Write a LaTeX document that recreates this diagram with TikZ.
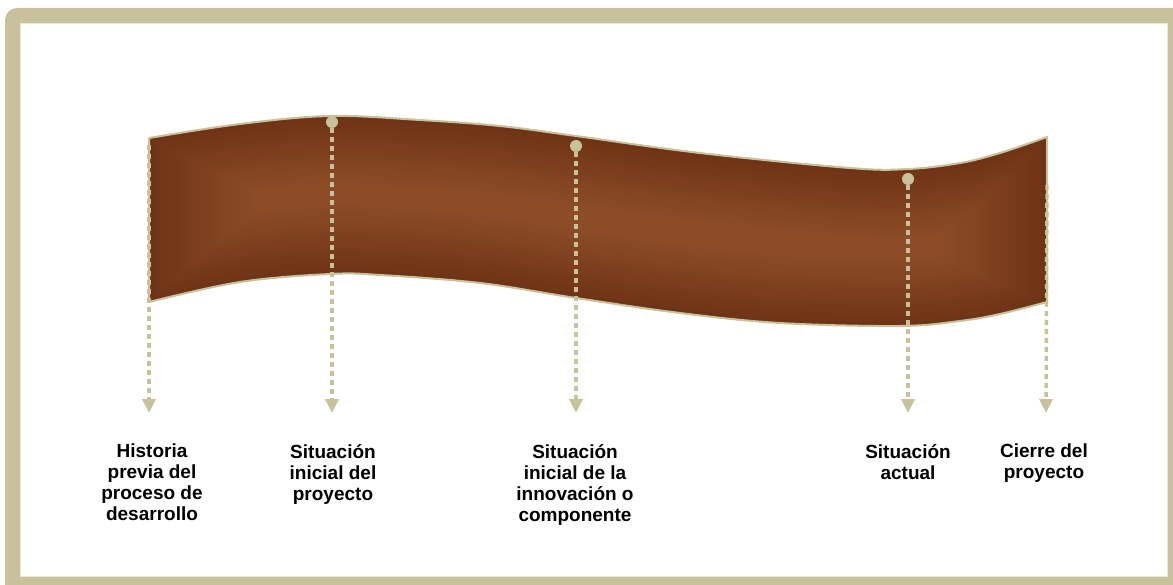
\documentclass[tikz,border=0pt]{standalone}
\usepackage{fontspec}
\setmainfont{Liberation Sans}
\usetikzlibrary{arrows.meta}
\definecolor{khaki}{HTML}{C8C29C}
\definecolor{cream}{HTML}{ECE9D6}
\definecolor{rdark}{HTML}{6F3416}
\definecolor{rlight}{HTML}{8C4C28}
\newcommand\ribbonpath[1]{%
  plot[smooth,tension=0.6] coordinates {(149,138+#1) (240,124+#1) (330,116+#1) (420,120+#1) (500,126+#1) (576,136+#1) (700,153+#1) (850,168+#1) (908,169+#1) (960,163+#1) (1000,153+#1) (1047,137+#1)}
  -- plot[smooth,tension=0.6] coordinates {(1047,302-#1) (1000,314-#1) (960,321-#1) (900,326-#1) (780,323-#1) (680,313-#1) (576,298-#1) (480,283-#1) (380,275-#1) (330,274-#1) (240,282-#1) (149,302-#1)} -- cycle}
\tikzset{
  leader/.style={draw=khaki, line width=3.4pt, dash pattern=on 5pt off 4pt,
    -{Triangle[width=13pt,length=14pt,fill=khaki]}},
  dot/.style={circle, fill=khaki, minimum size=12pt, inner sep=0pt},
  label/.style={anchor=north, align=center, inner sep=0pt,
    font=\fontsize{19}{21}\selectfont\bfseries, text=black}
}
\begin{document}
\begin{tikzpicture}[x=1pt,y=-1pt]
\useasboundingbox (0,0) rectangle (1173,585);
% frame
\fill[khaki, rounded corners=12pt] (5,8) rectangle (1200,610);
\fill[white] (20,23) rectangle (1168,577);
\draw[cream, line width=1pt] (20.5,23.5) rectangle (1167.5,576.5);
% ribbon with banded shading
\foreach \i in {0,...,16}{
  \pgfmathsetmacro\d{\i*4.2}
  \pgfmathsetmacro\dx{\i*6.5}
  \pgfmathsetmacro\m{100*\i/16}
  \begin{scope}
    \clip (149+\dx,0) rectangle (1047-\dx,600);
    \fill[rlight!\m!rdark] \ribbonpath{\d};
  \end{scope}
}
\draw[khaki, line width=2pt, line join=round] \ribbonpath{0};
% dots
\node[dot] (d1) at (332,122) {};
\node[dot] (d2) at (576,146) {};
\node[dot] (d3) at (908,179) {};
\coordinate (s0) at (149,145);
\coordinate (s4) at (1047,185);
\coordinate (e0) at (149,413);
\coordinate (e1) at (332,413);
\coordinate (e2) at (576,413);
\coordinate (e3) at (908,413);
\coordinate (e4) at (1046,413);
\draw[leader] (s0) -- (e0);
\draw[leader] (d1.south) -- (e1);
\draw[leader] (d2.south) -- (e2);
\draw[leader] (d3.south) -- (e3);
\draw[leader] (s4) -- (e4);
% labels
\node[label] (l0) at (152,444) {Historia\\previa del\\proceso de\\desarrollo};
\node[label] (l1) at (333,444) {Situación\\inicial del\\proyecto};
\node[label] (l2) at (575,444) {Situación\\inicial de la\\innovación o\\componente};
\node[label] (l3) at (908,444) {Situación\\actual};
\node[label] (l4) at (1044,444) {Cierre del\\proyecto};
\end{tikzpicture}
\end{document}
